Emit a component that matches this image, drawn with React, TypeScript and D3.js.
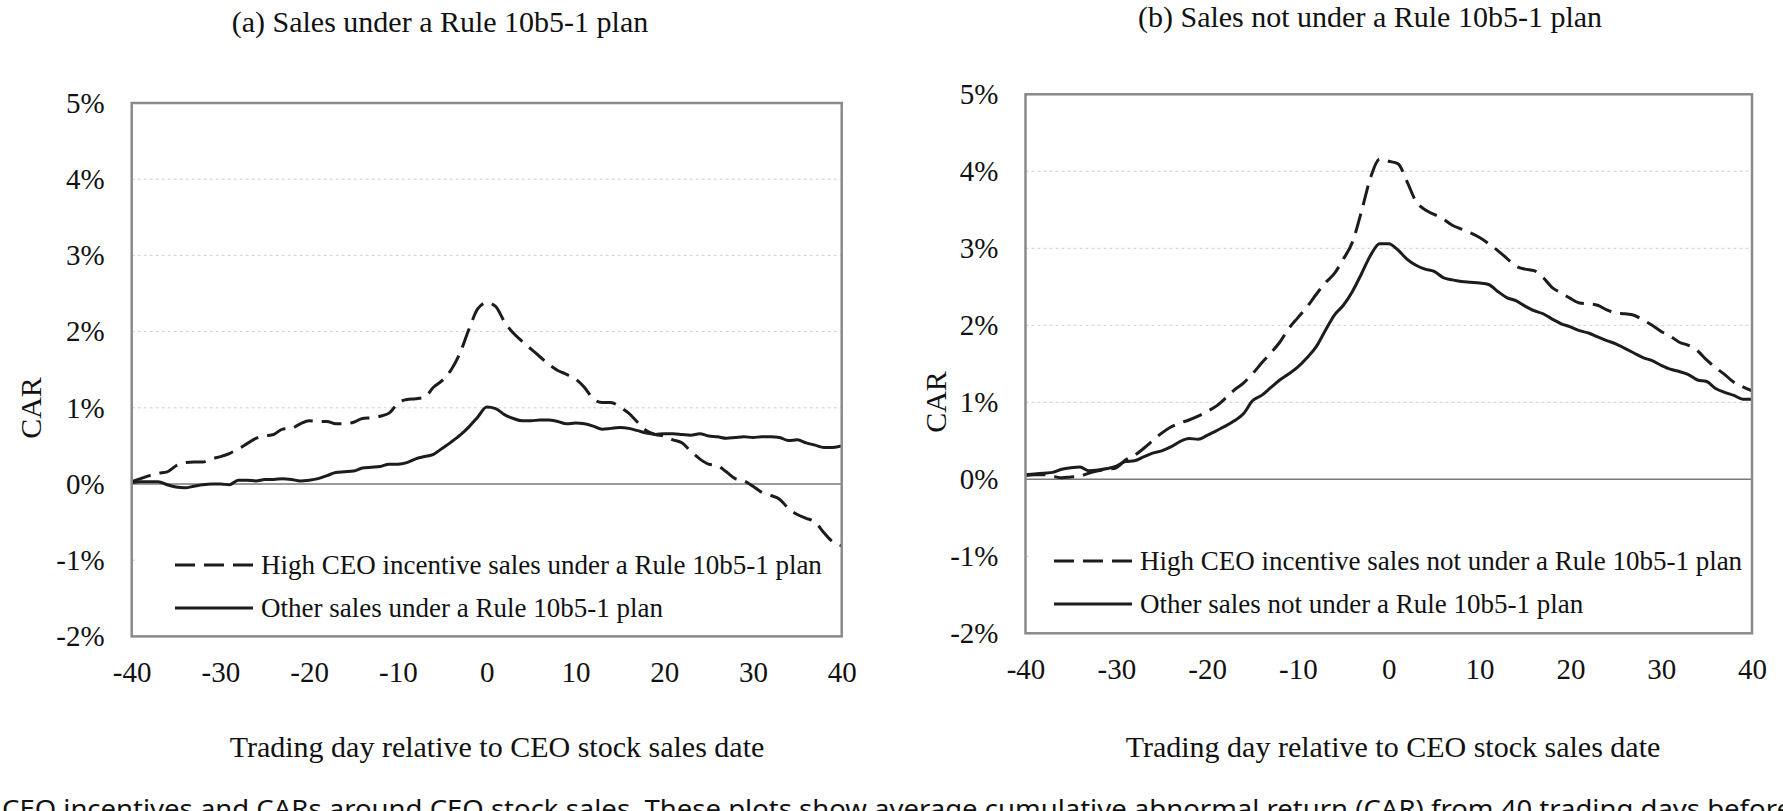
import React, { useEffect, useRef } from "react";
import * as d3 from "d3";

// trading days relative to the sale date
const days = d3.range(-40, 41);

const xTicks = [-40, -30, -20, -10, 0, 10, 20, 30, 40];
const yTicks = [-2, -1, 0, 1, 2, 3, 4, 5];

// CAR in percent, one value per trading day from -40 to 40
const highUnderPlan = [
  0.03, 0.07, 0.11, 0.14, 0.16, 0.24, 0.28, 0.29, 0.29, 0.33,
  0.36, 0.4, 0.46, 0.53, 0.6, 0.63, 0.65, 0.72, 0.73, 0.79,
  0.83, 0.82, 0.82, 0.79, 0.79, 0.81, 0.86, 0.87, 0.89, 0.93,
  1.06, 1.11, 1.12, 1.14, 1.27, 1.36, 1.5, 1.72, 2.03, 2.3,
  2.38, 2.33, 2.13, 1.98, 1.87, 1.77, 1.67, 1.57, 1.49, 1.44,
  1.38, 1.27, 1.12, 1.07, 1.07, 1.01, 0.93, 0.81, 0.7, 0.65,
  0.63, 0.58, 0.54, 0.43, 0.33, 0.26, 0.24, 0.16, 0.07, 0.04,
  -0.03, -0.11, -0.15, -0.2, -0.32, -0.4, -0.45, -0.5, -0.64, -0.76,
  -0.81,
];

const otherUnderPlan = [
  0.02, 0.03, 0.03, 0.03, -0.01, -0.04, -0.05, -0.03, -0.01, 0.0,
  0.0, -0.01, 0.05, 0.05, 0.04, 0.06, 0.06, 0.07, 0.06, 0.04,
  0.05, 0.07, 0.11, 0.15, 0.16, 0.17, 0.21, 0.22, 0.23, 0.26,
  0.26, 0.28, 0.33, 0.36, 0.39, 0.47, 0.55, 0.64, 0.75, 0.88,
  1.01, 0.99, 0.91, 0.86, 0.83, 0.83, 0.84, 0.84, 0.82, 0.79,
  0.8, 0.79, 0.76, 0.72, 0.73, 0.74, 0.73, 0.7, 0.67, 0.65,
  0.66, 0.66, 0.65, 0.64, 0.66, 0.63, 0.62, 0.6, 0.61, 0.62,
  0.61, 0.62, 0.62, 0.61, 0.57, 0.58, 0.54, 0.51, 0.48, 0.48,
  0.5,
];

const highNotUnderPlan = [
  0.05, 0.06, 0.06, 0.04, 0.02, 0.03, 0.04, 0.08, 0.11, 0.13,
  0.15, 0.25, 0.31, 0.4, 0.5, 0.6, 0.68, 0.73, 0.77, 0.82,
  0.88, 0.95, 1.05, 1.16, 1.25, 1.37, 1.51, 1.64, 1.78, 1.96,
  2.1, 2.24, 2.4, 2.55, 2.67, 2.86, 3.08, 3.48, 3.92, 4.16,
  4.13, 4.1, 3.87, 3.61, 3.5, 3.44, 3.38, 3.3, 3.25, 3.2,
  3.14, 3.06, 2.97, 2.87, 2.77, 2.73, 2.71, 2.62, 2.49, 2.42,
  2.35, 2.29, 2.28, 2.26, 2.2, 2.16, 2.15, 2.13, 2.07, 2.0,
  1.92, 1.86, 1.78, 1.74, 1.67, 1.55, 1.45, 1.36, 1.26, 1.2,
  1.15,
];

const otherNotUnderPlan = [
  0.06, 0.07, 0.08, 0.09, 0.13, 0.15, 0.16, 0.11, 0.12, 0.14,
  0.17, 0.23, 0.24, 0.29, 0.34, 0.37, 0.42, 0.49, 0.53, 0.52,
  0.57, 0.63, 0.69, 0.76, 0.85, 1.02, 1.09, 1.19, 1.29, 1.37,
  1.46, 1.58, 1.72, 1.93, 2.13, 2.26, 2.44, 2.67, 2.91, 3.06,
  3.06, 2.98, 2.86, 2.78, 2.73, 2.7, 2.62, 2.59, 2.57, 2.56,
  2.55, 2.53, 2.44, 2.36, 2.32, 2.25, 2.19, 2.15, 2.08, 2.02,
  1.98, 1.93, 1.9, 1.85, 1.8, 1.76, 1.7, 1.64, 1.58, 1.54,
  1.48, 1.43, 1.4, 1.36, 1.29, 1.27, 1.18, 1.13, 1.09, 1.04,
  1.04,
];

const SERIF = "'Liberation Serif', 'Times New Roman', serif";
const DASH = "20 9";

const panels = [
  {
    title: "(a) Sales under a Rule 10b5-1 plan",
    titleX: 440, titleY: 32,
    left: 131.7, right: 841.7, top: 103, bottom: 636.4,
    carX: 41, carY: 408,
    xTitleX: 497,
    legendTop: 547, legendLeft: 137,
    legendY: [565, 608], legendX: 175,
    high: highUnderPlan, other: otherUnderPlan,
    labels: ["High CEO incentive sales under a Rule 10b5-1 plan", "Other sales under a Rule 10b5-1 plan"],
  },
  {
    title: "(b) Sales not under a Rule 10b5-1 plan",
    titleX: 1370, titleY: 27,
    left: 1025.5, right: 1752, top: 94.3, bottom: 633.3,
    carX: 946, carY: 402,
    xTitleX: 1393,
    legendTop: 541, legendLeft: 1031,
    legendY: [561, 604], legendX: 1054,
    high: highNotUnderPlan, other: otherNotUnderPlan,
    labels: ["High CEO incentive sales not under a Rule 10b5-1 plan", "Other sales not under a Rule 10b5-1 plan"],
  },
];

function drawPanel(svg, p) {
  const x = d3.scaleLinear().domain([-40, 40]).range([p.left, p.right]);
  const y = d3.scaleLinear().domain([-2, 5]).range([p.bottom, p.top]);
  const g = svg.append("g");

  g.append("text")
    .attr("x", p.titleX).attr("y", p.titleY)
    .attr("text-anchor", "middle")
    .attr("font-size", 30)
    .text(p.title);

  // dotted gridlines
  g.selectAll(".grid")
    .data(yTicks.filter(t => t !== 0 && t !== -2 && t !== 5))
    .join("line")
    .attr("x1", p.left).attr("x2", p.right)
    .attr("y1", d => y(d)).attr("y2", d => y(d))
    .attr("stroke", "#cfcfcf")
    .attr("stroke-width", 1)
    .attr("stroke-dasharray", "3 3");

  g.append("line")
    .attr("x1", p.left).attr("x2", p.right)
    .attr("y1", y(0)).attr("y2", y(0))
    .attr("stroke", "#7a7a7a")
    .attr("stroke-width", 1.5);

  const line = d3.line()
    .x((d, i) => x(days[i]))
    .y(d => y(d))
    .curve(d3.curveMonotoneX);

  g.append("path")
    .attr("d", line(p.other))
    .attr("fill", "none")
    .attr("stroke", "#1c1c1c")
    .attr("stroke-width", 3);

  g.append("path")
    .attr("d", line(p.high))
    .attr("fill", "none")
    .attr("stroke", "#1c1c1c")
    .attr("stroke-width", 3)
    .attr("stroke-dasharray", DASH);

  // legend sits on a white box inside the plot
  g.append("rect")
    .attr("x", p.legendLeft).attr("y", p.legendTop)
    .attr("width", p.right - p.legendLeft).attr("height", p.bottom - p.legendTop)
    .attr("fill", "#fff");

  g.append("rect")
    .attr("x", p.left).attr("y", p.top)
    .attr("width", p.right - p.left).attr("height", p.bottom - p.top)
    .attr("fill", "none")
    .attr("stroke", "#8a8a8a")
    .attr("stroke-width", 2.5);

  p.labels.forEach((label, i) => {
    const ly = p.legendY[i];
    g.append("line")
      .attr("x1", p.legendX).attr("x2", p.legendX + 78)
      .attr("y1", ly).attr("y2", ly)
      .attr("stroke", "#1c1c1c")
      .attr("stroke-width", 3)
      .attr("stroke-dasharray", i === 0 ? DASH : null);
    g.append("text")
      .attr("x", p.legendX + 86).attr("y", ly + 9)
      .attr("font-size", 27)
      .text(label);
  });

  const yAxis = g.append("g")
    .attr("transform", `translate(${p.left},0)`)
    .call(d3.axisLeft(y).tickValues(yTicks).tickFormat(d => `${d}%`).tickSize(0).tickPadding(27));
  const xAxis = g.append("g")
    .attr("transform", `translate(0,${p.bottom})`)
    .call(d3.axisBottom(x).tickValues(xTicks).tickFormat(d => String(d)).tickSize(0).tickPadding(25));
  [yAxis, xAxis].forEach(ax => {
    ax.select(".domain").remove();
    ax.attr("font-family", SERIF).attr("font-size", 29);
    ax.selectAll("text").attr("fill", "#111");
  });

  g.append("text")
    .attr("transform", `translate(${p.carX},${p.carY}) rotate(-90)`)
    .attr("text-anchor", "middle")
    .attr("font-size", 30)
    .text("CAR");

  g.append("text")
    .attr("x", p.xTitleX).attr("y", 757)
    .attr("text-anchor", "middle")
    .attr("font-size", 30)
    .text("Trading day relative to CEO stock sales date");
}

export default function App() {
  const ref = useRef(null);

  useEffect(() => {
    const svg = d3.select(ref.current);
    svg.selectAll("*").remove();
    panels.forEach(p => drawPanel(svg, p));

    // figure caption, running off the bottom of the page
    svg.append("text")
      .attr("x", 2).attr("y", 818)
      .attr("font-family", "'Noto Sans', sans-serif")
      .attr("font-size", 25)
      .attr("textLength", 1790)
      .attr("lengthAdjust", "spacingAndGlyphs")
      .attr("fill", "#111")
      .text("CEO incentives and CARs around CEO stock sales. These plots show average cumulative abnormal return (CAR) from 40 trading days before");
  }, []);

  return (
    <svg
      ref={ref}
      width={1783}
      height={811}
      style={{ position: "absolute", left: 0, top: 0, background: "#fff" }}
      fontFamily={SERIF}
      fill="#111"
    />
  );
}
